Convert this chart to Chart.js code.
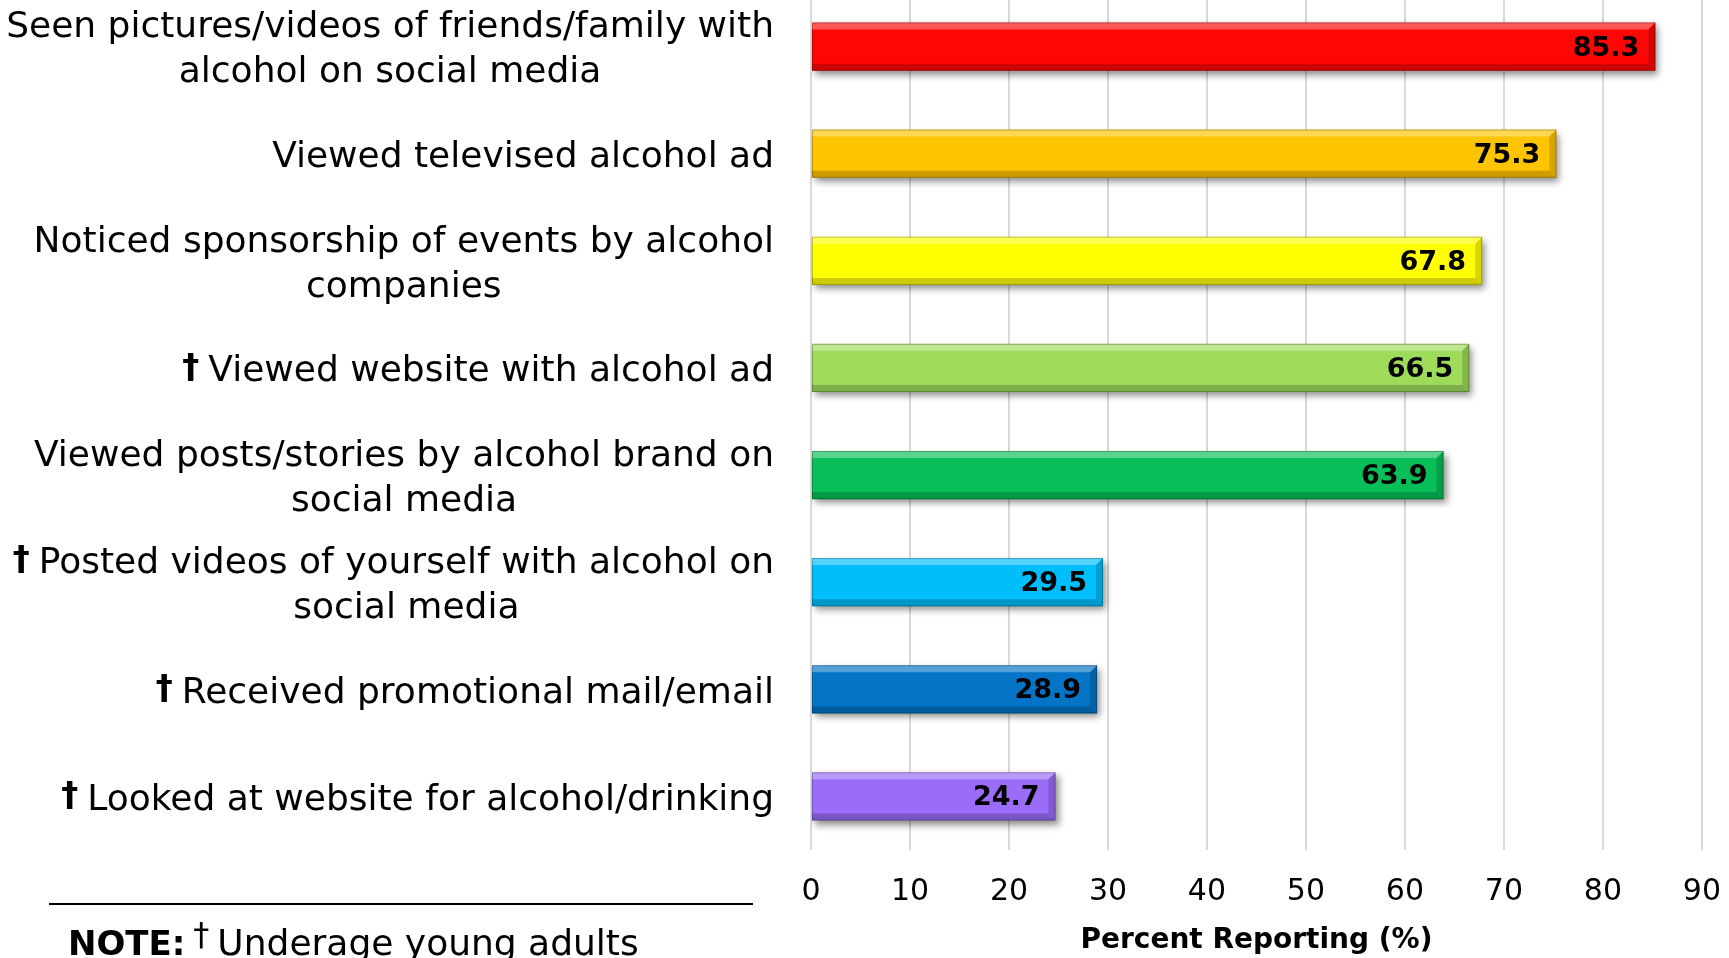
<!DOCTYPE html>
<html>
<head>
<meta charset="utf-8">
<title>Alcohol marketing exposure</title>
<script src="https://cdn.jsdelivr.net/npm/chart.js@4"></script>
<style>
  html, body { margin: 0; padding: 0; background: #fff; overflow: hidden; }
  #wrap { position: absolute; left: 0; top: -7px; width: 1729px; height: 965px; }
</style>
</head>
<body>
<div id="wrap"><canvas id="chart"></canvas></div>
<script>
// categories, one array of wrapped lines per bar
const categories = [
  ["Seen pictures/videos of friends/family with", "alcohol on social media"],
  ["Viewed televised alcohol ad"],
  ["Noticed sponsorship of events by alcohol", "companies"],
  ["Viewed website with alcohol ad"],
  ["Viewed posts/stories by alcohol brand on", "social media"],
  ["Posted videos of yourself with alcohol on", "social media"],
  ["Received promotional mail/email"],
  ["Looked at website for alcohol/drinking"]
];
// † marks items asked of underage young adults
const underage = [false, false, false, true, false, true, true, true];
const percents = [85.3, 75.3, 67.8, 66.5, 63.9, 29.5, 28.9, 24.7];
const barColors = ["#ff0606", "#ffc400", "#ffff00", "#9edb5a", "#08be58", "#00befa", "#0674c6", "#9a6cf8"];
const xMin = 0, xMax = 90, xStep = 10;

const FONT = "'DejaVu Sans', sans-serif";
const labelFont = "36px " + FONT;
const daggerFont = "bold 34px " + FONT;
const lineGap = 45;

function fillPoly(ctx, pts, color) {
  ctx.beginPath();
  ctx.moveTo(pts[0][0], pts[0][1]);
  for (let k = 1; k < pts.length; k++) ctx.lineTo(pts[k][0], pts[k][1]);
  ctx.closePath();
  ctx.fillStyle = color;
  ctx.fill();
}

// drop shadow under the bars, bevelled edges and the value inside each bar
const barStyle = {
  id: 'barStyle',
  beforeDatasetsDraw(chart) {
    const ctx = chart.ctx;
    ctx.save();
    ctx.shadowColor = 'rgba(0,0,0,0.45)';
    ctx.shadowBlur = 7;
    ctx.shadowOffsetX = 3;
    ctx.shadowOffsetY = 4;
  },
  afterDatasetsDraw(chart) {
    const ctx = chart.ctx;
    ctx.restore();
    ctx.save();
    const meta = chart.getDatasetMeta(0);
    meta.data.forEach((bar, i) => {
      const { x, y, base, height } = bar.getProps(['x', 'y', 'base', 'height'], true);
      const top = y - height / 2, bottom = y + height / 2;
      const left = base, right = x;
      const b = 7;
      fillPoly(ctx, [[left, top], [right, top], [right - b, top + b], [left, top + b]], 'rgba(255,255,255,0.32)');
      fillPoly(ctx, [[left, bottom], [right, bottom], [right - b, bottom - b], [left, bottom - b]], 'rgba(0,0,0,0.2)');
      fillPoly(ctx, [[right, top], [right, bottom], [right - b, bottom - b], [right - b, top + b]], 'rgba(0,0,0,0.16)');
      ctx.strokeStyle = 'rgba(0,0,0,0.25)';
      ctx.lineWidth = 1;
      ctx.strokeRect(left + 0.5, top + 0.5, right - left - 1, height - 1);

      ctx.font = "bold 27px " + FONT;
      ctx.textAlign = 'right';
      ctx.textBaseline = 'middle';
      ctx.fillStyle = '#000';
      ctx.fillText(percents[i].toFixed(1), right - 16, y + 2);
    });
    ctx.restore();
  }
};

// category labels: lines centred within a right-aligned block, dagger in front
const categoryLabels = {
  id: 'categoryLabels',
  afterDraw(chart) {
    const ctx = chart.ctx;
    const yScale = chart.scales.y;
    const rightEdge = chart.chartArea.left - 37;
    ctx.save();
    ctx.fillStyle = '#000';
    ctx.textBaseline = 'middle';
    categories.forEach((lines, i) => {
      const cy = yScale.getPixelForValue(i) + 4;
      ctx.font = labelFont;
      ctx.textAlign = 'center';
      const blockW = Math.max(...lines.map(l => ctx.measureText(l).width));
      const cx = rightEdge - blockW / 2;
      const y0 = cy - (lines.length - 1) * lineGap / 2;
      lines.forEach((line, k) => ctx.fillText(line, cx, y0 + k * lineGap));
      if (underage[i]) {
        const firstLeft = cx - ctx.measureText(lines[0]).width / 2;
        ctx.font = daggerFont;
        ctx.textAlign = 'right';
        ctx.fillText('\u2020', firstLeft - 9, y0 - 3);
      }
    });

    // footnote
    ctx.strokeStyle = '#000';
    ctx.lineWidth = 2;
    ctx.beginPath();
    ctx.moveTo(49, 911);
    ctx.lineTo(753, 911);
    ctx.stroke();

    ctx.textAlign = 'left';
    ctx.textBaseline = 'alphabetic';
    let nx = 68;
    const ny = 962;
    ctx.font = "bold 34px " + FONT;
    ctx.fillText('NOTE:', nx, ny);
    nx += ctx.measureText('NOTE:').width + 8;
    ctx.font = "32px " + FONT;
    ctx.fillText('\u2020', nx, ny - 10);
    nx += ctx.measureText('\u2020').width + 8;
    ctx.font = labelFont;
    ctx.fillText('Underage young adults', nx, ny);
    ctx.restore();
  }
};

new Chart(document.getElementById('chart'), {
  type: 'bar',
  data: {
    labels: categories.map(l => l.join(' ')),
    datasets: [{
      data: percents,
      backgroundColor: barColors,
      borderWidth: 0,
      categoryPercentage: 1,
      barPercentage: 0.45
    }]
  },
  options: {
    indexAxis: 'y',
    responsive: true,
    maintainAspectRatio: false,
    animation: false,
    layout: { padding: { left: 811, right: 27, top: 0, bottom: 0 } },
    plugins: {
      legend: { display: false },
      tooltip: { enabled: false }
    },
    scales: {
      x: {
        min: xMin,
        max: xMax,
        ticks: { stepSize: xStep, color: '#000', padding: 8, font: { family: FONT, size: 30 } },
        grid: { color: '#d9d9d9', lineWidth: 2, drawTicks: true, tickLength: 16, tickColor: 'rgba(0,0,0,0)' },
        border: { display: false },
        title: {
          display: true,
          text: 'Percent Reporting (%)',
          color: '#000',
          font: { family: FONT, size: 28, weight: 'bold' },
          padding: { top: 0, bottom: 0 }
        },
        afterFit(scale) { scale.height = 108; }
      },
      y: { display: false }
    }
  },
  plugins: [barStyle, categoryLabels]
});
</script>
</body>
</html>
